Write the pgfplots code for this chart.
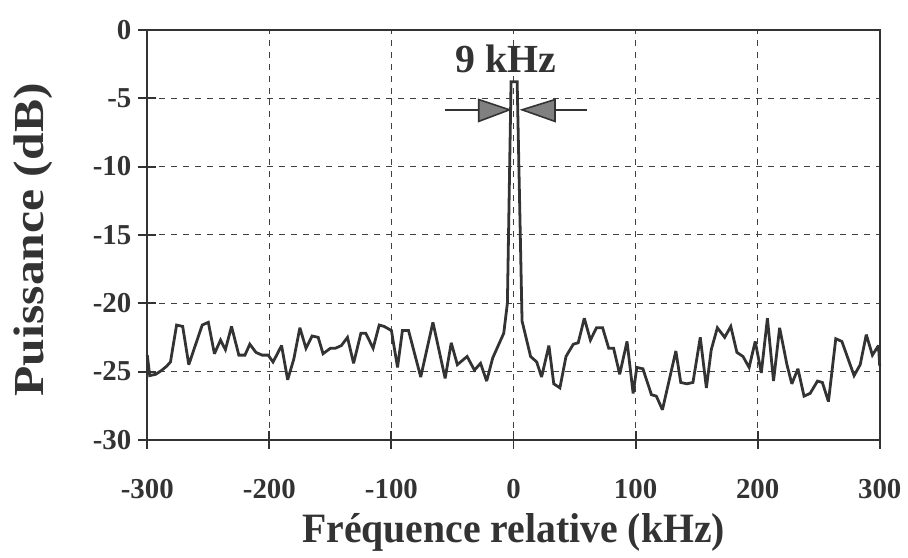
\documentclass[border=0pt]{standalone}
\usepackage{fontspec}
\setmainfont{Liberation Serif}
\usepackage{pgfplots}
\pgfplotsset{compat=1.18}

\definecolor{ink}{HTML}{333333}
\definecolor{arrowgray}{HTML}{808080}

\begin{document}
\begin{tikzpicture}
\begin{axis}[
    width=368pt, height=206pt, scale only axis,
    xmin=-300, xmax=300, ymin=-30, ymax=0,
    xtick={-300,-200,...,300},
    ytick={-30,-25,...,0},
    grid=major,
    grid style={black!75, line width=0.5pt, dash pattern=on 3pt off 3pt},
    axis line style={ink, line width=1.2pt},
    tick style={ink, line width=1pt},
    tick pos=left, tick align=center, major tick length=9pt,
    /pgf/number format/assume math mode=true,
    tick label style={font=\fontsize{14.5}{16}\selectfont\bfseries, text=ink},
    xticklabel style={yshift=-12pt},
    label style={text=ink},
    xlabel={\scalebox{0.95}[1]{\fontsize{21}{23}\selectfont\bfseries Fréquence relative (kHz)}},
    ylabel={\scalebox{1.16}[1]{\fontsize{21.5}{23}\selectfont\bfseries Puissance (dB)}},
    xlabel style={at={(rel axis cs:0.5,0)}, anchor=base, yshift=-51.5pt},
    ylabel style={at={(rel axis cs:0,0.5)}, anchor=center, yshift=57.5pt, xshift=-2.5pt},
    clip=false,
]
\coordinate (ll) at (rel axis cs:0,0);
\coordinate (ur) at (rel axis cs:1,1);
\addplot[ink, line width=1.4pt, line join=miter, miter limit=3] coordinates {
(-300,-23.8) (-298,-25.3) (-293,-25.2) (-288,-24.9) (-284,-24.6) (-281,-24.3)
(-276,-21.6) (-271,-21.7) (-266,-24.5) (-255,-21.6) (-250,-21.4) (-245,-23.7)
(-240,-22.7) (-236,-23.4) (-231,-21.7) (-225,-23.8) (-220,-23.8) (-216,-23.0)
(-211,-23.6) (-206,-23.8) (-201,-23.8) (-197,-24.3) (-194,-23.8) (-190,-23.1)
(-185,-25.6) (-180,-24.1) (-175,-21.8) (-170,-23.3) (-165,-22.4) (-160,-22.5)
(-156,-23.7) (-150,-23.3) (-146,-23.3) (-141,-23.1) (-136,-22.5) (-131,-24.4)
(-125,-22.2) (-121,-22.2) (-115,-23.3) (-110,-21.6) (-106,-21.7) (-100,-22.0)
(-95,-24.7) (-91,-22.0) (-86,-22.0) (-76,-25.4) (-66,-21.4) (-56,-25.5)
(-51,-22.9) (-46,-24.5) (-38,-23.9) (-32,-24.9) (-27,-24.4) (-22,-25.7)
(-17,-24.0) (-8,-22.2) (-5,-20.0) (-2,-3.8) (3,-3.8) (7,-21.3)
(14,-23.9) (19,-24.3) (23,-25.4) (29,-23.1) (33,-25.9) (38,-26.2)
(43,-23.9) (49,-23.0) (53,-22.9) (58,-21.1) (63,-22.7) (68,-21.8)
(73,-21.8) (78,-23.3) (82,-23.3) (87,-25.2) (93,-22.8) (98,-26.6)
(101,-24.7) (106,-24.8) (113,-26.7) (117,-26.8) (122,-27.8) (133,-23.5)
(137,-25.8) (142,-25.9) (147,-25.8) (153,-22.5) (158,-26.2) (162,-23.4)
(167,-21.8) (173,-22.5) (178,-21.7) (183,-23.6) (188,-23.9) (193,-24.7)
(198,-22.8) (203,-25.1) (208,-21.1) (213,-25.7) (218,-21.8) (224,-24.5)
(228,-25.9) (233,-24.8) (238,-26.8) (243,-26.6) (249,-25.7) (253,-25.8)
(258,-27.2) (264,-22.6) (269,-22.8) (275,-24.3) (279,-25.3) (284,-24.5)
(289,-22.3) (294,-23.8) (299,-23.1) (300,-24.6)
};
% 9 kHz width annotation
\draw[ink, line width=1pt] (axis cs:-56,-5.85) -- (axis cs:-28,-5.85);
\draw[ink, line width=0.8pt, fill=arrowgray] (axis cs:-28.5,-5.1) -- (axis cs:-3.3,-5.85) -- (axis cs:-28.5,-6.7) -- cycle;
\draw[ink, line width=1pt] (axis cs:60,-5.85) -- (axis cs:33,-5.85);
\draw[ink, line width=0.8pt, fill=arrowgray] (axis cs:34,-5.1) -- (axis cs:7,-5.85) -- (axis cs:34,-6.7) -- cycle;
\node[anchor=base, text=ink, font=\fontsize{20}{22}\selectfont\bfseries, inner sep=0pt] at (axis cs:-6,-3.1) {9 kHz};
\end{axis}
\path ([shift={(-74pt,-57pt)}]ll) rectangle ([shift={(12pt,15pt)}]ur);
\end{tikzpicture}
\end{document}
